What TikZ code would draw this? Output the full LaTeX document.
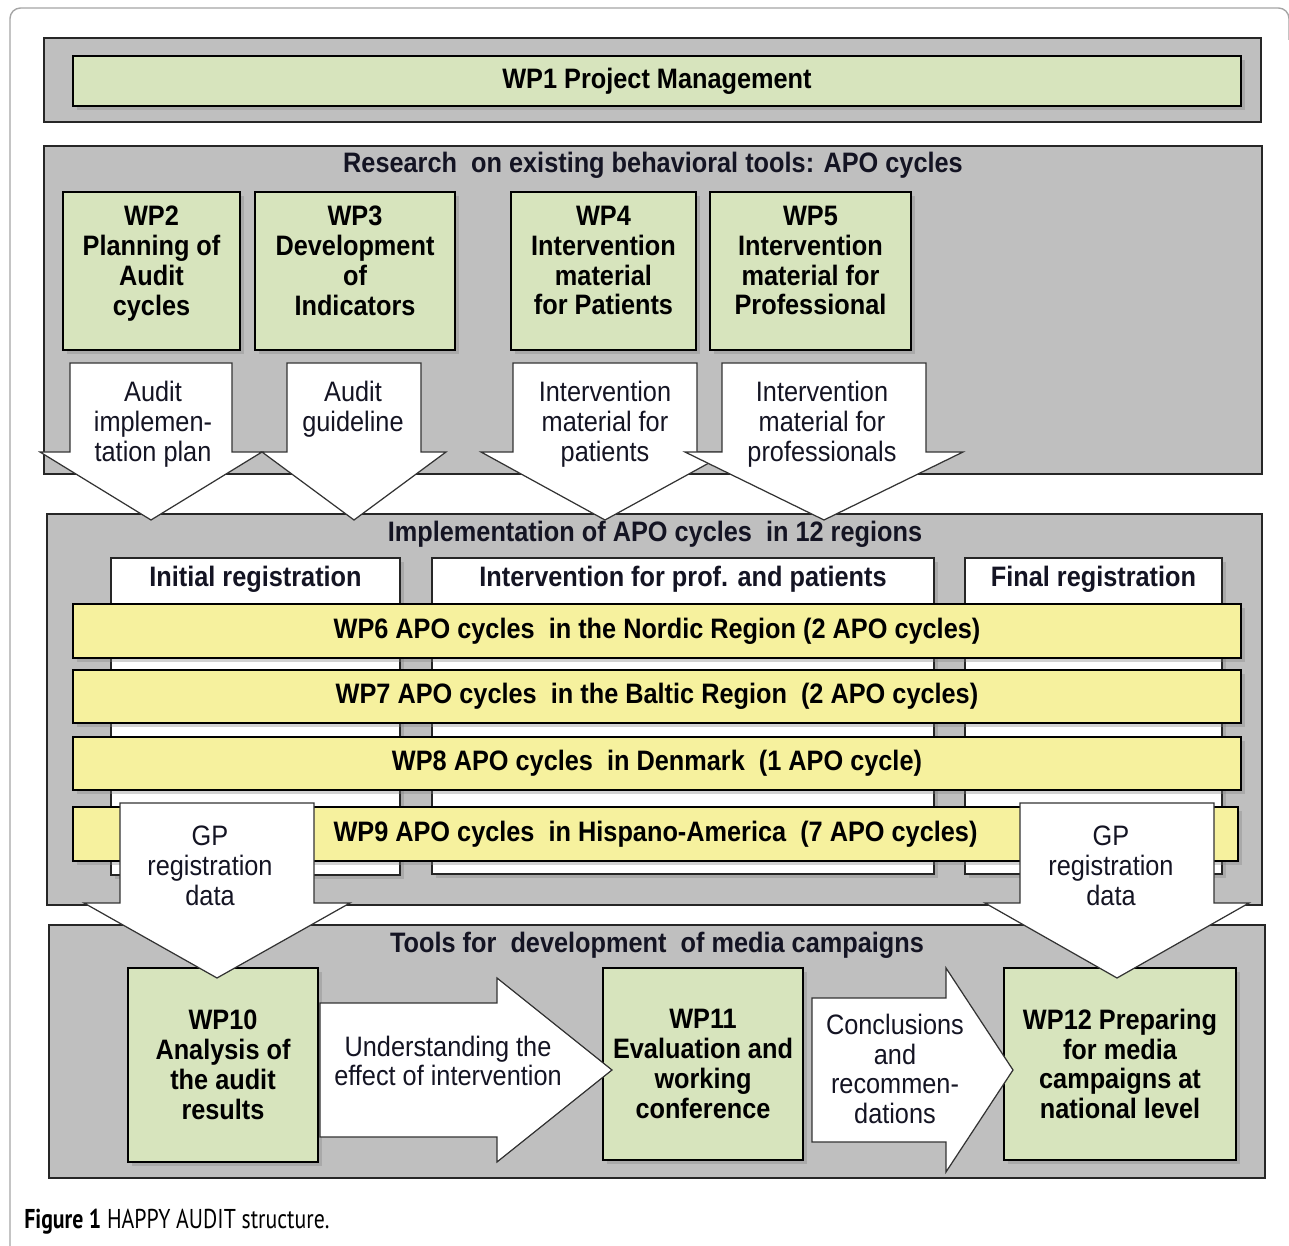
\documentclass[tikz,border=0pt]{standalone}
\usepackage{fontspec}
\setmainfont[FakeStretch=0.9]{Liberation Sans}
\newfontfamily\capfont[FakeStretch=0.8]{PT Sans}
\usetikzlibrary{shadows, positioning}

\definecolor{panelgray}{RGB}{191,191,191}
\definecolor{wpgreen}{RGB}{215,228,189}
\definecolor{wpyellow}{RGB}{246,241,158}
\definecolor{framegray}{RGB}{165,165,165}
\definecolor{txtdark}{RGB}{20,20,35}

% block arrows: centre, shaft half width, head half width, start, head base, tip
\newcommand{\downarr}[6]{%
  \draw[blockarr] (#1-#2,#4) -- (#1+#2,#4) -- (#1+#2,#5) -- (#1+#3,#5)
    -- (#1,#6) -- (#1-#3,#5) -- (#1-#2,#5) -- cycle;}
\newcommand{\rightarr}[6]{%
  \draw[blockarr] (#4,#1-#2) -- (#5,#1-#2) -- (#5,#1-#3) -- (#6,#1)
    -- (#5,#1+#3) -- (#5,#1+#2) -- (#4,#1+#2) -- cycle;}

\begin{document}
\begin{tikzpicture}[
    x=0.02cm, y=-0.02cm,
    sz/.style 2 args={minimum width=#1*0.02cm, minimum height=#2*0.02cm},
    panel/.style={rectangle, draw=black!85, fill=panelgray, line width=0.8pt, inner sep=0pt},
    wpbox/.style={rectangle, draw=black, fill=wpgreen, line width=0.9pt, align=center,
                  inner sep=2pt, font=\fontsize{16}{17}\selectfont\bfseries,
                  drop shadow={shadow xshift=2.5pt, shadow yshift=-2.5pt, opacity=0.35}},
    topbox/.style={wpbox, text depth=12pt},
    bar/.style={wpbox, fill=wpyellow},
    column/.style={rectangle, draw=black!85, fill=white, line width=0.8pt, inner sep=0pt,
                   drop shadow={shadow xshift=2.5pt, shadow yshift=-2.5pt, opacity=0.35}},
    ttl/.style={font=\fontsize{16}{17}\selectfont\bfseries, text=txtdark, inner sep=1pt},
    hdr/.style={ttl, inner sep=2pt},
    atxt/.style={font=\fontsize{16}{17}\selectfont, text=txtdark, align=center, inner sep=0pt},
    blockarr/.style={draw=black!80, fill=white, line width=0.7pt, line join=miter},
    frame/.style={draw=framegray, line width=0.8pt, rounded corners=6pt}
  ]

    \useasboundingbox (0,0) rectangle (1289,1246);
    \draw[frame] (10,1260) -- (10,8) -- (1289,8) -- (1289,40);

    % Management
    \node[panel, sz={1217}{84}] (pmgmt) at (652.5,80) {};
    \node[wpbox, sz={1168}{50}] (wp1) at (657,81) {WP1 Project Management};

    % Research
    \node[panel, sz={1218}{328}] (pres) at (653,310) {};
    \node[ttl] (tres) at (653,165) {Research\ \ on existing behavioral tools: APO cycles};
    \node[topbox, sz={177}{158}] (wp2) at (151.5,271) {WP2\\Planning of\\Audit\\cycles};
    \node[topbox, sz={200}{158}] (wp3) at (355,271) {WP3\\Development\\of\\Indicators};
    \node[topbox, sz={185}{158}] (wp4) at (603.5,271) {WP4\\Intervention\\material\\for Patients};
    \node[topbox, sz={201}{158}] (wp5) at (810.5,271) {WP5\\Intervention\\material for\\Professional};

    % Implementation
    \node[panel, sz={1215}{391}] (pimp) at (654.5,709.5) {};
    \node[ttl] (timp) at (655,534) {Implementation of APO cycles\ \ in 12 regions};
    \node[column, sz={289}{317}] (col1) at (255.5,716.5) {};
    \node[column, sz={502}{316}] (col2) at (683,716) {};
    \node[column, sz={257}{316}] (col3) at (1093.5,716) {};
    \node[hdr, below=3pt of col1.north] (hd1) {Initial registration};
    \node[hdr, below=3pt of col2.north] (hd2) {Intervention for prof. and patients};
    \node[hdr, below=3pt of col3.north] (hd3) {Final registration};
    \node[bar, sz={1168}{54}] (wp6) at (657,631) {WP6 APO cycles\ \ in the Nordic Region (2 APO cycles)};
    \node[bar, sz={1168}{53}] (wp7) at (657,696.5) {WP7 APO cycles\ \ in the Baltic Region\ \ (2 APO cycles)};
    \node[bar, sz={1168}{53}] (wp8) at (657,763.5) {WP8 APO cycles\ \ in Denmark\ \ (1 APO cycle)};
    \node[bar, sz={1165}{54}] (wp9) at (655.5,834) {WP9 APO cycles\ \ in Hispano-America\ \ (7 APO cycles)};

    % Media campaigns
    \node[panel, sz={1216}{253}] (pmed) at (657,1051.5) {};
    \node[ttl] (tmed) at (657,945) {Tools for\ \ development\ \ of media campaigns};
    \node[wpbox, sz={190}{194}] (wp10) at (223,1065) {WP10\\Analysis of\\the audit\\results};
    \node[wpbox, sz={200}{192}] (wp11) at (703,1064) {WP11\\Evaluation and\\working\\conference};
    \node[wpbox, sz={232}{192}] (wp12) at (1120,1064) {WP12 Preparing\\for media\\campaigns at\\national level};

    % Arrows
    \downarr{151}{81}{111}{363}{452}{520}
    \downarr{354}{67}{92}{363}{452}{520}
    \downarr{605}{92}{124}{363}{452}{520}
    \downarr{824}{102}{139}{363}{452}{520}
    \downarr{217}{97}{133}{803}{903}{978}
    \downarr{1117}{97}{132}{803}{903}{978}
    \rightarr{1070}{67}{92}{320}{497}{612}
    \rightarr{1070}{72}{102}{812}{946}{1013}

    % Arrow labels
    \node[atxt] (lplan) at (153,424) {Audit\\implemen-\\tation plan};
    \node[atxt] (lguide) at (353,409) {Audit\\guideline};
    \node[atxt] (lpat) at (605,424) {Intervention\\material for\\patients};
    \node[atxt] (lprof) at (822,424) {Intervention\\material for\\professionals};
    \node[atxt] (lgp1) at (210,866) {GP\\registration\\data};
    \node[atxt] (lgp2) at (1111,866) {GP\\registration\\data};
    \node[atxt] (leff) at (448,1061) {Understanding the\\effect of intervention};
    \node[atxt] (lconc) at (895,1069) {Conclusions\\and\\recommen-\\dations};

    % Caption
    \node[anchor=west, inner sep=0pt, font=\capfont\fontsize{15.5}{17}\selectfont] (cap) at (24,1222)
      {\textbf{Figure 1} HAPPY AUDIT structure.};

\end{tikzpicture}
\end{document}
